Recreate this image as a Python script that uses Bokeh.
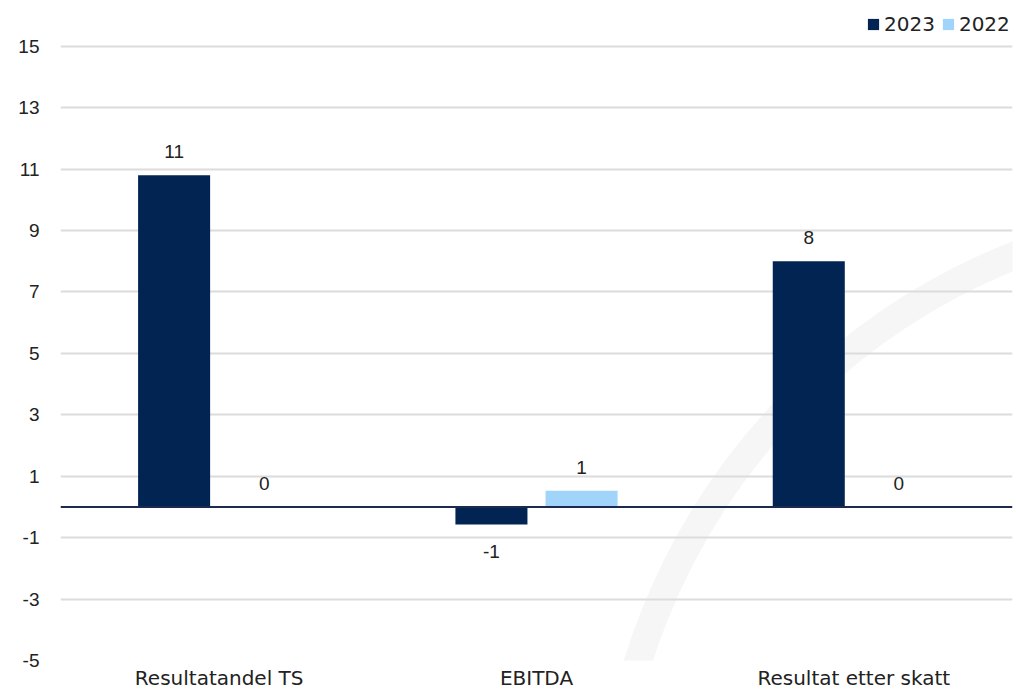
from bokeh.plotting import figure
from bokeh.models import (ColumnDataSource, Range1d, FixedTicker, Span,
                          Legend, LegendItem, LabelSet)
from bokeh.embed import file_html
from bokeh.resources import INLINE
from bokeh.core.properties import value

categories = ["Resultatandel TS", "EBITDA", "Resultat etter skatt"]
series_names = ["2023", "2022"]
values_2023 = [10.8, -0.57, 8.0]
values_2022 = [0.0, 0.53, 0.0]
y_ticks = [-5, -3, -1, 1, 3, 5, 7, 9, 11, 13, 15]

C2023 = "#022452"
C2022 = "#A1D4FB"

W, H = 1016, 692
BL, BR, BT, BB = 60, 4, 8, 29
FW, FH = W - BL - BR, H - BT - BB
YMIN, YMAX = -5, 15
TOP_PAD = 38  # pixels of frame kept above the 15 gridline (room for the legend)
UNIT = (FH - TOP_PAD) / (YMAX - YMIN)
NC = len(categories)

p = figure(x_range=Range1d(0, NC), y_range=Range1d(YMIN, YMAX + TOP_PAD / UNIT),
           width=W, height=H, output_backend="svg", toolbar_location=None,
           min_border_left=BL, min_border_right=BR, min_border_top=BT, min_border_bottom=BB)
p.outline_line_color = None
p.background_fill_color = "white"
p.border_fill_color = "white"

# faint decorative arc (watermark), positioned in pixel terms relative to the frame
def px_to_data(px, py):
    return px / FW * NC, YMIN + py / UNIT
ax, ay = px_to_data(1193, -195)
arc = p.circle(x=[ax], y=[ay], radius=645, radius_units="screen",
               fill_color=None, line_color="#f6f6f6", line_width=28)
arc.level = "image"

def fmt(v):
    return str(int(round(v + (0.0001 if v >= 0 else -0.0001))))

centers = [i + 0.5 for i in range(NC)]
OFF = 0.142
BW = 0.227

src23 = ColumnDataSource(dict(x=[c - OFF for c in centers], v=values_2023))
src22 = ColumnDataSource(dict(x=[c + OFF for c in centers], v=values_2022))

r23 = p.vbar(x="x", top="v", bottom=0, width=BW, source=src23,
             fill_color=C2023, line_color=None)
r22 = p.vbar(x="x", top="v", bottom=0, width=BW, source=src22,
             fill_color=C2022, line_color=None)

def split(xs, vals, positive):
    keep = [(x, v) for x, v in zip(xs, vals) if (v >= 0) == positive]
    return ColumnDataSource(dict(x=[x for x, _ in keep], v=[v for _, v in keep],
                                 l=[fmt(v) for _, v in keep]))

LF = value("Liberation Sans")
for vals, off in [(values_2023, -OFF), (values_2022, OFF)]:
    xs = [c + off for c in centers]
    p.add_layout(LabelSet(x="x", y="v", text="l", source=split(xs, vals, True),
                          text_align="center", text_baseline="alphabetic", y_offset=17,
                          text_font=LF, text_font_size="19px", text_color="#222222"))
    p.add_layout(LabelSet(x="x", y="v", text="l", source=split(xs, vals, False),
                          text_align="center", text_baseline="top", y_offset=-21,
                          text_font=LF, text_font_size="19px", text_color="#222222"))

p.add_layout(Span(location=0, dimension="width", line_color="#1b2a4e", line_width=2))

# axes
p.yaxis.ticker = FixedTicker(ticks=y_ticks)
p.yaxis.major_label_overrides = {t: str(t) for t in y_ticks}
p.yaxis.axis_line_color = None
p.yaxis.major_tick_line_color = None
p.yaxis.minor_tick_line_color = None
p.yaxis.major_tick_out = 0
p.yaxis.major_tick_in = 0
p.yaxis.major_label_standoff = 21
p.yaxis.major_label_text_font = "Liberation Sans"
p.yaxis.major_label_text_font_size = "19px"
p.yaxis.major_label_text_color = "#222222"

p.xaxis.ticker = FixedTicker(ticks=centers)
p.xaxis.major_label_overrides = {c: name for c, name in zip(centers, categories)}
p.xaxis.axis_line_color = None
p.xaxis.major_tick_line_color = None
p.xaxis.minor_tick_line_color = None
p.xaxis.major_tick_out = 0
p.xaxis.major_tick_in = 0
p.xaxis.major_label_standoff = 5
p.xaxis.major_label_text_font = "DejaVu Sans"
p.xaxis.major_label_text_font_size = "20px"
p.xaxis.major_label_text_color = "#222222"

p.xgrid.grid_line_color = None
p.ygrid.grid_line_color = "#dcdcdc"
p.ygrid.grid_line_width = 2

legend = Legend(items=[LegendItem(label=series_names[0], renderers=[r23]),
                       LegendItem(label=series_names[1], renderers=[r22])],
                location=(806, FH - 31), orientation="horizontal",
                glyph_width=14, glyph_height=14, label_standoff=4, spacing=6,
                padding=0, margin=0, border_line_color=None, background_fill_alpha=0,
                label_text_font="DejaVu Sans", label_text_font_size="20px",
                label_text_color="#222222")
p.add_layout(legend, "center")

open("out.html", "w").write(file_html(p, INLINE))
